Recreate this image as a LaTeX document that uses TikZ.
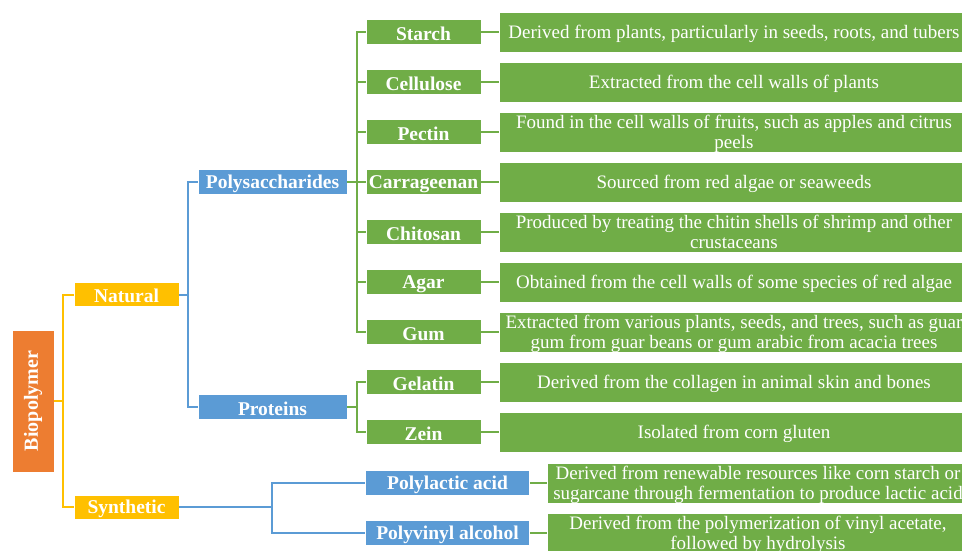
\documentclass[tikz,border=0pt]{standalone}
\usepackage{fontspec}
\setmainfont{Liberation Serif}
\definecolor{corange}{HTML}{ED7D31}
\definecolor{cyellow}{HTML}{FFC000}
\definecolor{cblue}{HTML}{5B9BD5}
\definecolor{cgreen}{HTML}{70AD47}
\tikzset{
  box/.style={rectangle, draw=white, line width=0.6pt, text=white, inner sep=0pt, anchor=center},
  rootbox/.style={box, fill=corange, minimum width=42, minimum height=142, font=\fontsize{20}{22}\selectfont\bfseries},
  lbl/.style={box, minimum height=25, font=\fontsize{19.5}{21}\selectfont\bfseries, execute at begin node={\rule{0pt}{16.5pt}}},
  ybox/.style={lbl, fill=cyellow, minimum width=105, minimum height=24},
  bbox/.style={lbl, fill=cblue, minimum width=149},
  sbox/.style={lbl, fill=cblue, minimum width=164},
  gbox/.style={lbl, fill=cgreen, minimum width=115},
  dsc/.style={box, fill=cgreen, minimum height=40, align=center, font=\fontsize{19}{20}\selectfont, execute at begin node={\rule{0pt}{17pt}}},
  dbox/.style={dsc, minimum width=470},
  dsbox/.style={dsc, minimum width=422},
  twoline/.style={text height=36pt, text depth=3pt},
  yline/.style={draw=cyellow, line width=2pt},
  bline/.style={draw=cblue, line width=2pt},
  gline/.style={draw=cgreen, line width=2pt}
}
\begin{document}
\begin{tikzpicture}[x=1pt,y=-1pt]
\useasboundingbox (0,0) rectangle (962,550);
\clip (0,0) rectangle (962,550);
\fill[white] (0,0) rectangle (962,550);

% level 0
\node[rootbox] (bio) at (33,401) {\rotatebox{90}{Biopolymer}};
% level 1
\node[ybox] (nat) at (126.5,294.5) {Natural};
\node[ybox] (syn) at (126.5,507) {Synthetic};
% level 2
\node[bbox] (poly) at (272.5,182) {Polysaccharides};
\node[bbox] (prot) at (272.5,407) {Proteins};
\node[sbox] (pla) at (447.5,483) {Polylactic acid};
\node[sbox] (pva) at (447.5,533) {Polyvinyl alcohol};
% level 3
\node[gbox] (sta) at (423.5,32) {Starch};
\node[gbox] (cel) at (423.5,82) {Cellulose};
\node[gbox] (pec) at (423.5,132) {Pectin};
\node[gbox] (car) at (423.5,182) {Carrageenan};
\node[gbox] (chi) at (423.5,232) {Chitosan};
\node[gbox] (aga) at (423.5,282) {Agar};
\node[gbox] (gum) at (423.5,332) {Gum};
\node[gbox] (gel) at (423.5,382) {Gelatin};
\node[gbox] (zei) at (423.5,432) {Zein};
% descriptions
\node[dbox] (dsta) at (734,32) {Derived from plants, particularly in seeds, roots, and tubers};
\node[dbox] (dcel) at (734,82) {Extracted from the cell walls of plants};
\node[dbox,twoline] (dpec) at (734,132) {Found in the cell walls of fruits, such as apples and citrus\\peels};
\node[dbox] (dcar) at (734,182) {Sourced from red algae or seaweeds};
\node[dbox,twoline] (dchi) at (734,232) {Produced by treating the chitin shells of shrimp and other\\crustaceans};
\node[dbox] (daga) at (734,282) {Obtained from the cell walls of some species of red algae};
\node[dbox,twoline] (dgum) at (734,332) {Extracted from various plants, seeds, and trees, such as guar\\gum from guar beans or gum arabic from acacia trees};
\node[dbox] (dgel) at (734,382) {Derived from the collagen in animal skin and bones};
\node[dbox] (dzei) at (734,432) {Isolated from corn gluten};
\node[dsbox,twoline] (dpla) at (758,483) {Derived from renewable resources like corn starch or\\sugarcane through fermentation to produce lactic acid};
\node[dsbox,twoline] (dpva) at (758,533) {Derived from the polymerization of vinyl acetate,\\followed by hydrolysis};

% connectors
\foreach \c in {nat,syn} \draw[yline] (bio.east) -- ([xshift=9]bio.east) |- (\c.west);
\foreach \c in {poly,prot} \draw[bline] (nat.east) -- ([xshift=9]nat.east) |- (\c.west);
\foreach \c in {pla,pva} \draw[bline] (syn.east) -- ([xshift=93]syn.east) |- (\c.west);
\foreach \c in {sta,cel,pec,car,chi,aga,gum} \draw[gline] (poly.east) -- ([xshift=10]poly.east) |- (\c.west);
\foreach \c in {gel,zei} \draw[gline] (prot.east) -- ([xshift=10]prot.east) |- (\c.west);
\foreach \a/\b in {sta/dsta,cel/dcel,pec/dpec,car/dcar,chi/dchi,aga/daga,gum/dgum,gel/dgel,zei/dzei} \draw[gline] (\a.east) -- (\b.west);
\draw[gline] (pla.east) -- (dpla.west);
\draw[gline] (pva.east) -- (dpva.west);
\end{tikzpicture}
\end{document}
